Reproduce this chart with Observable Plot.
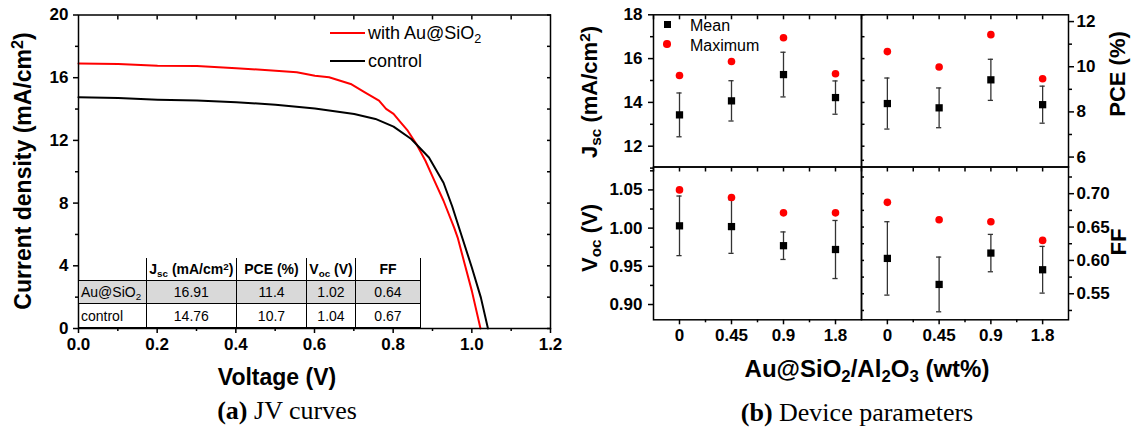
<!DOCTYPE html>
<html><head><meta charset="utf-8">
<script src="https://cdn.jsdelivr.net/npm/d3@7"></script>
<script src="https://cdn.jsdelivr.net/npm/@observablehq/plot@0.6"></script>
<style>
html,body{margin:0;padding:0;background:#fff;}
#root{position:relative;width:1132px;height:429px;overflow:hidden;font-family:"Liberation Sans",Arial,sans-serif;color:#000;}
#root svg{position:absolute;left:0;top:0;}
.t{position:absolute;white-space:nowrap;line-height:1;}
.c{transform:translate(-50%,-50%);}
.r{transform:translate(-50%,-50%) rotate(-90deg);}
.b{font-weight:bold;}
.cap{font-family:"Liberation Serif","Times New Roman",serif;font-size:26px;}
sub{font-size:70%;vertical-align:-0.28em;line-height:0;}
sup{font-size:70%;vertical-align:0.45em;line-height:0;}
table.inset{position:absolute;left:78px;top:258px;border-collapse:collapse;table-layout:fixed;width:342px;font-size:14px;}
table.inset td{border:1.5px solid #000;padding:0;text-align:center;vertical-align:middle;white-space:nowrap;overflow:hidden;}
table.inset tr.head td{border-top:none;font-weight:bold;height:22px;}
table.inset tr.head td:first-child{border-left:none;}
table.inset tr.gray td{background:#d9d9d9;}
table.inset td.name{text-align:left;padding-left:2px;}
</style></head>
<body><div id="root"></div>
<script>
// ---------- data ----------
const jvVoltageWithAu = [0, 0.101, 0.201, 0.301, 0.401, 0.501, 0.555, 0.601, 0.637, 0.692, 0.728, 0.764, 0.782, 0.801, 0.819, 0.837, 0.859, 0.882, 0.905, 0.928, 0.955, 0.964, 0.982, 1.000, 1.022];
const jvCurrentWithAu = [16.91, 16.88, 16.76, 16.74, 16.60, 16.45, 16.35, 16.13, 16.03, 15.60, 15.07, 14.54, 14.01, 13.69, 13.15, 12.62, 11.77, 10.70, 9.42, 8.15, 6.44, 5.80, 4.10, 2.40, 0];
const jvVoltageControl = [0, 0.101, 0.201, 0.301, 0.401, 0.501, 0.601, 0.701, 0.755, 0.801, 0.846, 0.891, 0.928, 0.950, 0.973, 1.000, 1.023, 1.041];
const jvCurrentControl = [14.76, 14.71, 14.60, 14.54, 14.43, 14.28, 14.04, 13.69, 13.37, 12.88, 12.09, 10.91, 9.30, 7.80, 6.00, 3.89, 1.97, 0];
const jvSeriesNames = ["with Au@SiO<sub>2</sub>", "control"];
const jvXTicks = [0, 0.2, 0.4, 0.6, 0.8, 1.0, 1.2];
const jvYTicks = [0, 4, 8, 12, 16, 20];

const tableColumns = ["", "J<sub>sc</sub> (mA/cm<sup>2</sup>)", "PCE (%)", "V<sub>oc</sub> (V)", "FF"];
const tableSamples = ["Au@SiO<sub>2</sub>", "control"];
const tableJsc = ["16.91", "14.76"];
const tablePCE = ["11.4", "10.7"];
const tableVoc = ["1.02", "1.04"];
const tableFF = ["0.64", "0.67"];

const loadings = ["0", "0.45", "0.9", "1.8"];
const jscMean = [13.43, 14.07, 15.27, 14.22];
const jscErr  = [1.00, 0.92, 1.02, 0.76];
const jscMax  = [15.23, 15.87, 16.95, 15.31];
const pceMean = [8.37, 8.18, 9.42, 8.32];
const pceErr  = [1.13, 0.88, 0.91, 0.82];
const pceMax  = [10.67, 9.99, 11.42, 9.47];
const vocMean = [1.003, 1.002, 0.977, 0.972];
const vocErr  = [0.039, 0.035, 0.018, 0.038];
const vocMax  = [1.050, 1.040, 1.020, 1.020];
const ffMean  = [0.603, 0.564, 0.611, 0.586];
const ffErr   = [0.055, 0.041, 0.028, 0.035];
const ffMax   = [0.687, 0.661, 0.658, 0.630];
const jscTicks = [12, 14, 16, 18];
const pceTicks = [6, 8, 10, 12];
const vocTicks = [0.90, 0.95, 1.00, 1.05];
const ffTicks  = [0.55, 0.60, 0.65, 0.70];

// ---------- layout ----------
const W = 1132, H = 429;
const root = document.getElementById("root");
const svgStyle = {background: "transparent", overflow: "visible", fontFamily: "'Liberation Sans', Arial, sans-serif", fontSize: "17px", fontWeight: "bold", color: "black"};
const AX = {label: null, strokeWidth: 1.5};

function addText(html, x, y, cls, size) {
  const d = document.createElement("div");
  d.className = "t " + cls;
  d.style.left = x + "px"; d.style.top = y + "px";
  if (size) d.style.fontSize = size + "px";
  d.innerHTML = html;
  root.appendChild(d);
  return d;
}

// ---------- (a) JV curves ----------
const withAu = jvVoltageWithAu.map((v, i) => ({v, j: jvCurrentWithAu[i]}));
const control = jvVoltageControl.map((v, i) => ({v, j: jvCurrentControl[i]}));
const jv = Plot.plot({
  width: W, height: H,
  marginLeft: 78, marginRight: W - 550, marginTop: 14.5, marginBottom: H - 328,
  style: svgStyle,
  x: {domain: [0, 1.2], axis: null},
  y: {domain: [0, 20], axis: null},
  marks: [
    Plot.line(withAu, {x: "v", y: "j", stroke: "#ff0000", strokeWidth: 2}),
    Plot.line(control, {x: "v", y: "j", stroke: "#000", strokeWidth: 2}),
    Plot.frame({strokeWidth: 1.5}),
    Plot.axisY({...AX, ticks: jvYTicks, tickSize: 5, tickPadding: 5, tickFormat: d3.format("d")}),
    Plot.axisY({...AX, ticks: jvYTicks.slice(0, -1).map(d => d + 2), tickSize: 3, text: null}),
    Plot.axisY({...AX, anchor: "right", ticks: d3.range(0, 21, 2), tickSize: -4, text: null}),
    Plot.axisX({...AX, ticks: jvXTicks, tickSize: 5, tickPadding: 4, tickFormat: d3.format(".1f")}),
    Plot.axisX({...AX, ticks: jvXTicks.slice(0, -1).map(d => d + 0.1), tickSize: 3, text: null}),
    Plot.axisX({...AX, anchor: "top", ticks: d3.range(1, 12).map(i => i / 10), tickSize: -4, text: null})
  ]
});
root.appendChild(jv);

// legend (a)
const legA = [["#ff0000", 33.3], ["#000", 61]];
legA.forEach(([col, y], i) => {
  const l = document.createElement("div");
  l.style.cssText = `position:absolute;left:330px;top:${y - 1}px;width:35px;height:2px;background:${col};`;
  root.appendChild(l);
  addText(jvSeriesNames[i], 368, y - 9, "", 18);
});

// inset table
const tbl = document.createElement("table");
tbl.className = "inset";
const colW = [67.7, 90.3, 70, 49, 65];
let html = "<colgroup>" + colW.map(w => `<col style="width:${w}px">`).join("") + "</colgroup>";
html += `<tr class="head">` + tableColumns.map(c => `<td>${c}</td>`).join("") + "</tr>";
tableSamples.forEach((s, i) => {
  html += `<tr class="${i === 0 ? "gray" : ""}" style="height:${i === 0 ? 23 : 24}px"><td class="name">${s}</td><td>${tableJsc[i]}</td><td>${tablePCE[i]}</td><td>${tableVoc[i]}</td><td>${tableFF[i]}</td></tr>`;
});
tbl.innerHTML = html;
root.appendChild(tbl);

addText("Current density (mA/cm<sup>2</sup>)", 23, 171, "r b", 23);
addText("Voltage (V)", 277, 377, "c b", 23);
addText("<b>(a)</b> JV curves", 287, 411, "c cap");

// ---------- (b) device parameters ----------
const halfSteps = d3.range(1, 9).map(i => i / 2);
function panel(cfg) {
  const rows = loadings.map((l, i) => ({x: i + 1, mean: cfg.mean[i], lo: cfg.mean[i] - cfg.err[i], hi: cfg.mean[i] + cfg.err[i], max: cfg.max[i]}));
  const marks = [
    Plot.ruleX(rows, {x: "x", y1: "lo", y2: "hi", stroke: "#333", strokeWidth: 1.3}),
    Plot.ruleY(rows, {y: "hi", x1: d => d.x - 0.05, x2: d => d.x + 0.05, stroke: "#333", strokeWidth: 1.3}),
    Plot.ruleY(rows, {y: "lo", x1: d => d.x - 0.05, x2: d => d.x + 0.05, stroke: "#333", strokeWidth: 1.3}),
    Plot.dot(rows, {x: "x", y: "mean", symbol: "square", r: 4.1, fill: "#000"}),
    Plot.dot(rows, {x: "x", y: "max", r: 3.8, fill: "#ff0000"}),
    Plot.frame({strokeWidth: 1.5}),
    Plot.axisX({...AX, anchor: "top", ticks: halfSteps, tickSize: -4, text: null})
  ];
  const side = cfg.side;
  marks.push(Plot.axisY({...AX, anchor: side, ticks: cfg.ticks, tickSize: 5, tickPadding: side === "left" ? 6 : 3, tickFormat: cfg.format}));
  marks.push(Plot.axisY({...AX, anchor: side, ticks: cfg.minor, tickSize: 3, text: null}));
  if (cfg.inner) marks.push(Plot.axisY({...AX, anchor: cfg.inner.anchor, ticks: cfg.inner.ticks, tickSize: cfg.inner.size, text: null}));
  if (cfg.bottom) {
    marks.push(Plot.axisX({...AX, ticks: [1, 2, 3, 4], tickSize: 5, tickPadding: 4, tickFormat: i => loadings[i - 1]}));
    marks.push(Plot.axisX({...AX, ticks: [1.5, 2.5, 3.5], tickSize: 3, text: null}));
  }
  const p = Plot.plot({
    width: W, height: H,
    marginLeft: cfg.x0, marginRight: W - cfg.x1, marginTop: cfg.y0, marginBottom: H - cfg.y1,
    style: svgStyle,
    x: {domain: [0.5, 4.5], axis: null},
    y: {domain: cfg.domain, axis: null},
    marks
  });
  root.appendChild(p);
}
const X0 = 653, XM = 861, X1 = 1068, Y0 = 14.3, YM = 166.5, Y1 = 319.3;
panel({x0: X0, x1: XM, y0: Y0, y1: YM, domain: [11.05, 18], mean: jscMean, err: jscErr, max: jscMax,
  side: "left", ticks: jscTicks, minor: [11, 13, 15, 17], format: d3.format("d"),
  inner: {anchor: "right", ticks: d3.range(12, 19), size: 2.5}});
panel({x0: XM, x1: X1, y0: Y0, y1: YM, domain: [5.56, 12.3], mean: pceMean, err: pceErr, max: pceMax,
  side: "right", ticks: pceTicks, minor: [7, 9, 11], format: d3.format("d")});
panel({x0: X0, x1: XM, y0: YM, y1: Y1, domain: [0.88, 1.08], mean: vocMean, err: vocErr, max: vocMax,
  side: "left", ticks: vocTicks, minor: [0.925, 0.975, 1.025, 1.075], format: d3.format(".2f"), bottom: true});
panel({x0: XM, x1: X1, y0: YM, y1: Y1, domain: [0.511, 0.74], mean: ffMean, err: ffErr, max: ffMax,
  side: "right", ticks: ffTicks, minor: [0.525, 0.575, 0.625, 0.675, 0.725], format: d3.format(".2f"), bottom: true,
  inner: {anchor: "left", ticks: d3.range(0, 10).map(i => 0.525 + i * 0.025), size: -3}});

// legend (b)
const sq = document.createElement("div");
sq.style.cssText = "position:absolute;left:663.5px;top:20.8px;width:7px;height:7px;background:#000;";
root.appendChild(sq);
const ci = document.createElement("div");
ci.style.cssText = "position:absolute;left:663.2px;top:40.2px;width:7.6px;height:7.6px;border-radius:50%;background:#ff0000;";
root.appendChild(ci);
addText("Mean", 690, 24.3 - 6.5, "", 16);
addText("Maximum", 690, 44 - 6.5, "", 16);

addText("J<sub>sc</sub> (mA/cm<sup>2</sup>)", 590, 92, "r b", 22);
addText("V<sub>oc</sub> (V)", 590, 238, "r b", 22);
addText("PCE (%)", 1118, 74, "r b", 22);
addText("FF", 1119, 242, "r b", 22);
addText("Au@SiO<sub>2</sub>/Al<sub>2</sub>O<sub>3</sub> (wt%)", 867, 369, "c b", 24);
addText("<b>(b)</b> Device parameters", 857, 413, "c cap");
</script>
</body></html>
